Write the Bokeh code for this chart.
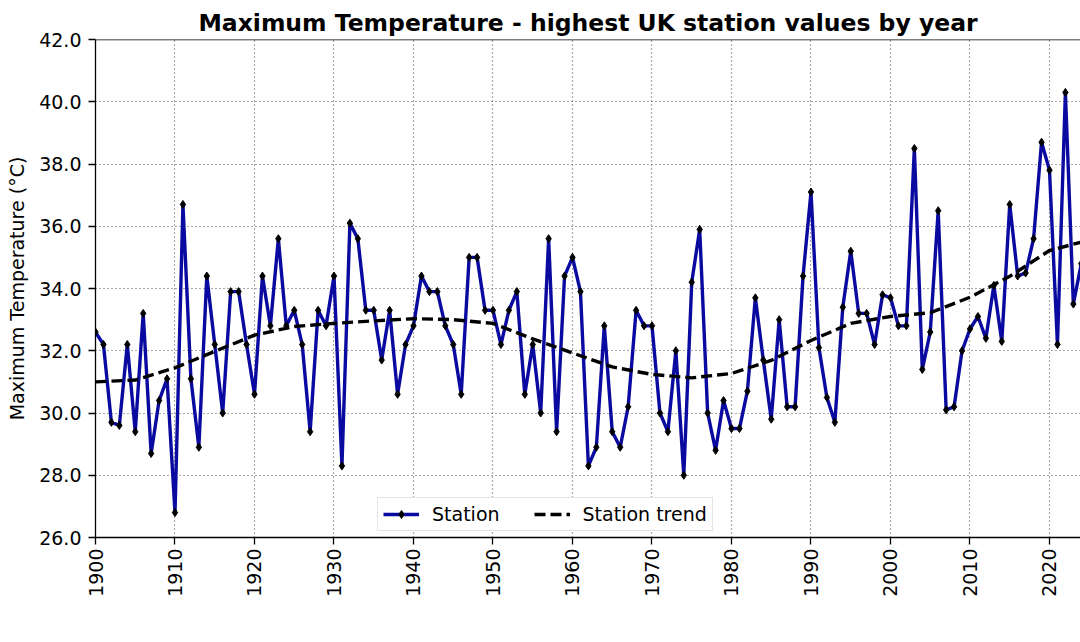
import math
from bokeh.plotting import figure
from bokeh.models import (Range1d, Span, Legend, LegendItem, FixedTicker,
                          PrintfTickFormatter, ColumnDataSource)
from bokeh.embed import file_html
from bokeh.resources import INLINE

years = list(range(1900, 2025))
station = [
    32.6, 32.2, 29.7, 29.6, 32.2, 29.4, 33.2, 28.7, 30.4, 31.1,   # 1900s
    26.8, 36.7, 31.1, 28.9, 34.4, 32.2, 30.0, 33.9, 33.9, 32.2,   # 1910s
    30.6, 34.4, 32.8, 35.6, 32.8, 33.3, 32.2, 29.4, 33.3, 32.8,   # 1920s
    34.4, 28.3, 36.1, 35.6, 33.3, 33.3, 31.7, 33.3, 30.6, 32.2,   # 1930s
    32.8, 34.4, 33.9, 33.9, 32.8, 32.2, 30.6, 35.0, 35.0, 33.3,   # 1940s
    33.3, 32.2, 33.3, 33.9, 30.6, 32.2, 30.0, 35.6, 29.4, 34.4,   # 1950s
    35.0, 33.9, 28.3, 28.9, 32.8, 29.4, 28.9, 30.2, 33.3, 32.8,   # 1960s
    32.8, 30.0, 29.4, 32.0, 28.0, 34.2, 35.9, 30.0, 28.8, 30.4,   # 1970s
    29.5, 29.5, 30.7, 33.7, 31.7, 29.8, 33.0, 30.2, 30.2, 34.4,   # 1980s
    37.1, 32.1, 30.5, 29.7, 33.4, 35.2, 33.2, 33.2, 32.2, 33.8,   # 1990s
    33.7, 32.8, 32.8, 38.5, 31.4, 32.6, 36.5, 30.1, 30.2, 32.0,   # 2000s
    32.7, 33.1, 32.4, 34.1, 32.3, 36.7, 34.4, 34.5, 35.6, 38.7,   # 2010s
    37.8, 32.2, 40.3, 33.5, 34.8,                                 # 2020s
]

trend_years = [1900, 1905, 1910, 1915, 1920, 1925, 1930, 1935, 1940, 1945,
               1950, 1955, 1960, 1965, 1970, 1975, 1980, 1985, 1990, 1995,
               2000, 2005, 2010, 2015, 2020, 2024]
trend = [31.00, 31.06, 31.45, 31.98, 32.50, 32.78, 32.88, 32.96, 33.03, 33.00,
         32.88, 32.38, 31.93, 31.48, 31.24, 31.13, 31.27, 31.69, 32.33, 32.88,
         33.10, 33.22, 33.72, 34.39, 35.22, 35.49]

x_ticks = list(range(1900, 2021, 10))
y_ticks = [26, 28, 30, 32, 34, 36, 38, 40, 42]

FONT = "DejaVu Sans"
BLUE = "#0a0aa0"

p = figure(frame_width=985, frame_height=498,
           min_border_left=95, min_border_right=0, min_border_top=39,
           min_border_bottom=105,
           x_range=Range1d(1900, 2023.9), y_range=Range1d(26, 42),
           output_backend="svg", toolbar_location=None,
           title="Maximum Temperature - highest UK station values by year")

p.title.text_font = FONT
p.title.text_font_size = "23.5px"
p.title.text_font_style = "bold"
p.title.align = "center"
p.title.text_color = "black"
p.title.standoff = 6

p.outline_line_color = None
p.background_fill_color = "white"
p.border_fill_color = "white"

# axes
for ax in (p.xaxis[0], p.yaxis[0]):
    ax.axis_line_color = "black"
    ax.axis_line_width = 1.3
    ax.major_tick_line_color = "black"
    ax.major_tick_line_width = 1.3
    ax.major_tick_in = 0
    ax.major_tick_out = 7
    ax.minor_tick_line_color = None
    ax.major_label_text_font = FONT
    ax.major_label_text_font_size = "19px"
    ax.major_label_text_color = "black"
    ax.major_label_standoff = 7

p.xaxis.ticker = FixedTicker(ticks=x_ticks)
p.xaxis.major_label_orientation = math.pi / 2
p.xaxis.major_label_standoff = 4
p.yaxis.ticker = FixedTicker(ticks=y_ticks)
p.yaxis.formatter = PrintfTickFormatter(format="%.1f")
p.yaxis.axis_label = "Maximum Temperature (°C)"
p.yaxis.axis_label_text_font = FONT
p.yaxis.axis_label_text_font_size = "19px"
p.yaxis.axis_label_text_font_style = "normal"
p.yaxis.axis_label_text_color = "black"
p.yaxis.axis_label_standoff = 8

# grid
for g in (p.xgrid[0], p.ygrid[0]):
    g.grid_line_color = "#555555"
    g.grid_line_dash = "1 3"
    g.grid_line_width = 1.2

# top spine
p.add_layout(Span(location=42, dimension="width", line_color="black", line_width=1.6))

src = ColumnDataSource(data=dict(year=years, t=station))
r_line = p.line("year", "t", source=src, line_color=BLUE, line_width=3.4)
r_pts = p.scatter("year", "t", source=src, marker="diamond", size=8,
                  fill_color="black", line_color="black")
tsrc = ColumnDataSource(data=dict(year=trend_years, t=trend))
r_trend = p.line("year", "t", source=tsrc, line_color="black", line_width=3.4,
                 line_dash="11 5")

# legend kept inside the frame (bottom, over an empty band) so it stays visible
legend = Legend(items=[LegendItem(label="Station", renderers=[r_line, r_pts]),
                       LegendItem(label="Station trend", renderers=[r_trend])],
                orientation="horizontal", location=(282, 6),
                label_text_font=FONT, label_text_font_size="19px",
                label_text_color="black",
                glyph_width=36, glyph_height=20, label_standoff=13,
                spacing=34, padding=5, margin=0,
                border_line_color="#cccccc", border_line_width=1,
                background_fill_color="white", background_fill_alpha=1)
p.add_layout(legend, "center")

open("out.html", "w").write(file_html(p, INLINE))
